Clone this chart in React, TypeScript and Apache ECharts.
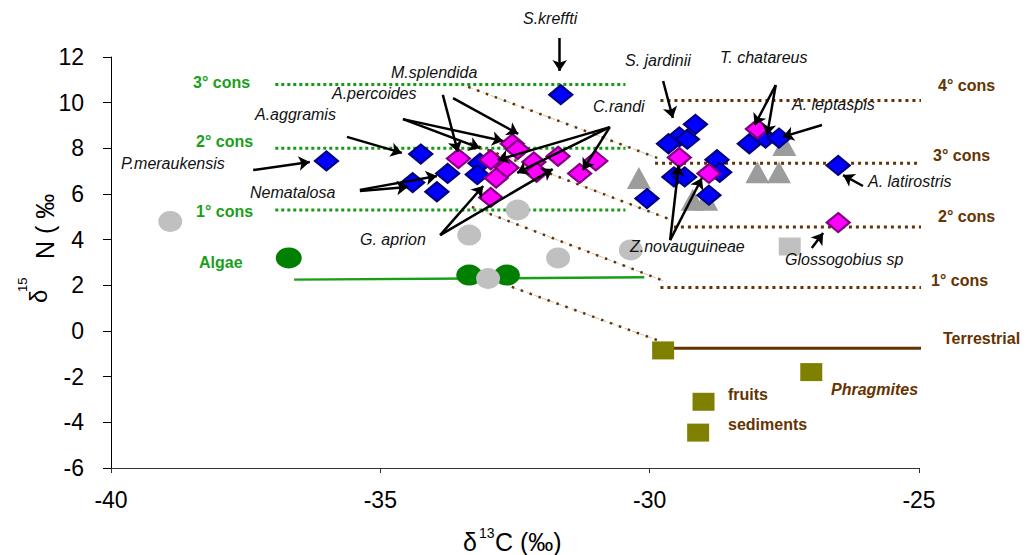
import React, { useEffect, useRef } from 'react';
import * as echarts from 'echarts';

const FONT = '"Liberation Sans", Arial, Helvetica, sans-serif';

// ---- data (δ13C, δ15N) ----
const blueFish: number[][] = [
  [-36.0, 7.45], [-34.25, 7.75], [-33.75, 6.9], [-34.4, 6.5], [-33.95, 6.1],
  [-33.15, 7.35], [-33.2, 6.85], [-31.65, 10.35], [-30.05, 5.8],
  [-29.15, 9.05], [-29.45, 8.5], [-29.3, 8.4], [-29.65, 8.2],
  [-29.55, 6.75], [-29.35, 6.75], [-28.75, 7.5], [-28.7, 6.95], [-28.9, 5.95],
  [-28.15, 8.2], [-27.85, 8.45], [-27.6, 8.45], [-26.5, 7.25],
];
const magentaFish: number[][] = [
  [-33.55, 7.55], [-32.95, 7.5], [-32.65, 7.15], [-32.85, 6.7], [-32.95, 5.85],
  [-32.55, 8.2], [-32.45, 7.95], [-32.15, 7.4], [-32.1, 6.95], [-31.7, 7.65],
  [-31.3, 6.9], [-31.0, 7.45], [-29.45, 7.6], [-28.9, 6.9], [-28.0, 8.85], [-26.5, 4.75],
];
const greyCircles: number[][] = [
  [-38.9, 4.8], [-33.35, 4.2], [-32.45, 5.3], [-31.7, 3.2], [-33.0, 2.3], [-30.35, 3.55],
];
const greyTriangles: number[][] = [
  [-30.2, 6.7], [-29.2, 5.75], [-28.95, 5.75], [-28.0, 6.95], [-27.6, 6.95], [-27.5, 8.15],
];
const greySquares: number[][] = [[-27.4, 3.7]];
const algae: number[][] = [[-36.7, 3.2], [-33.35, 2.45], [-32.65, 2.45]];
const terrestrialSources: number[][] = [[-29.75, -0.85], [-27.0, -1.8], [-29.0, -3.1], [-29.1, -4.45]];

// ---- trophic reference lines ----
const algaeLine: number[][] = [[-36.6, 2.25], [-30.1, 2.35]];
const greenLevels: number[] = [10.8, 8.0, 5.3];
const greenLevelSpan: number[] = [-36.95, -30.45];
const brownLevels: number[] = [10.1, 7.35, 4.55, 1.9];
const brownLevelStarts: number[] = [-29.8, -29.9, -29.55, -29.8];
const brownLevelEnd = -24.9;
const terrestrialLine: number[][] = [[-29.75, -0.75], [-24.85, -0.75]];
const diagonals: number[][][] = [
  [[-33.37, 10.69], [-29.86, 7.58]],
  [[-33.34, 8.23], [-29.59, 4.86]],
  [[-33.3, 5.43], [-29.68, 2.14]],
  [[-32.56, 1.93], [-29.86, -0.4]],
];

// ---- annotation arrows (from, to) ----
const arrows: number[][][] = [
  [[-37.36, 7.05], [-36.31, 7.4]],
  [[-35.62, 8.5], [-34.6, 7.8]],
  [[-35.38, 6.13], [-34.49, 6.31]],
  [[-35.38, 6.18], [-33.95, 6.79]],
  [[-34.58, 9.28], [-33.15, 8.01]],
  [[-34.58, 9.28], [-32.72, 8.32]],
  [[-33.84, 10.34], [-33.56, 7.84]],
  [[-33.65, 10.2], [-32.44, 8.63]],
  [[-33.89, 4.2], [-33.09, 6.35]],
  [[-33.89, 4.2], [-31.8, 7.09]],
  [[-30.74, 8.93], [-32.82, 7.49]],
  [[-30.74, 8.93], [-32.46, 6.92]],
  [[-30.74, 8.93], [-31.24, 7.05]],
  [[-31.67, 12.83], [-31.67, 11.39]],
  [[-29.75, 10.95], [-29.57, 9.33]],
  [[-27.66, 10.77], [-28.05, 9.02]],
  [[-27.66, 10.77], [-27.82, 8.58]],
  [[-26.8, 9.02], [-27.53, 8.5]],
  [[-26.04, 6.35], [-26.41, 6.83]],
  [[-26.99, 3.63], [-26.78, 4.29]],
  [[-29.62, 3.98], [-29.46, 7.27]],
  [[-29.62, 3.98], [-29.03, 6.7]],
];

// ---- texts ----
const speciesNames: string[] = [
  'S.kreffti', 'M.splendida', 'A.percoides', 'A.aggramis', 'P.meraukensis', 'Nematalosa',
  'G. aprion', 'C.randi', 'S. jardinii', 'T. chatareus', 'A. leptaspis', 'A. latirostris',
  'Z.novauguineae', 'Glossogobius sp',
];
const greenNames: string[] = ['3° cons', '2° cons', '1° cons', 'Algae'];
const brownNames: string[] = ['4° cons', '3° cons', '2° cons', '1° cons', 'Terrestrial', 'fruits', 'sediments'];

const GREEN = '#1a9f1a';
const BROWN = '#663300';

export default function App() {
  const ref = useRef<HTMLDivElement>(null);
  useEffect(() => {
    document.body.style.margin = '0';
    const chart = echarts.init(ref.current!, null, { renderer: 'svg' });

    const speciesPos = [
      [523, 18], [391, 72], [332, 93], [255, 114], [121, 163], [250, 192],
      [360, 239], [593, 106], [625, 60], [720, 57], [792, 104], [868, 181],
      [630, 246], [785, 259],
    ];
    const greenPos = [[193, 82], [196, 141], [196, 211], [199, 262]];
    const brownPos = [[938, 85], [933, 155], [938, 216], [931, 280], [943, 338], [728, 394], [728, 424]];

    const txt = (text: string, x: number, y: number, fill: string, extra: any = {}) => ({
      type: 'text',
      x, y,
      z: 100,
      silent: true,
      ...(extra.el || {}),
      style: {
        text,
        fill,
        fontFamily: FONT,
        fontSize: 16,
        align: 'left', textAlign: 'left',
        verticalAlign: 'middle', textVerticalAlign: 'middle',
        ...(extra.style || {}),
      },
    });

    const graphics: any[] = [];
    speciesNames.forEach((n, i) => graphics.push(txt(n, speciesPos[i][0], speciesPos[i][1], '#111', { style: { fontStyle: 'italic' } })));
    greenNames.forEach((n, i) => graphics.push(txt(n, greenPos[i][0], greenPos[i][1], GREEN, { style: { fontWeight: 'bold' } })));
    brownNames.forEach((n, i) => graphics.push(txt(n, brownPos[i][0], brownPos[i][1], BROWN, { style: { fontWeight: 'bold' } })));
    graphics.push(txt('Phragmites', 831, 389, BROWN, { style: { fontWeight: 'bold', fontStyle: 'italic' } }));
    // y axis title (rotated)
    graphics.push(txt('N ( ‰', 45, 259, '#000', { el: { rotation: Math.PI / 2 }, style: { fontSize: 25 } }));
    graphics.push(txt('δ', 38, 303, '#000', { el: { rotation: Math.PI / 2 }, style: { fontSize: 24 } }));
    graphics.push(txt('15', 22, 292, '#000', { el: { rotation: Math.PI / 2 }, style: { fontSize: 13 } }));
    // x axis title
    graphics.push(txt('δ', 463, 542, '#000', { style: { fontSize: 25 } }));
    graphics.push(txt('13', 479, 533, '#000', { style: { fontSize: 14 } }));
    graphics.push(txt('C (‰)', 495, 542, '#000', { style: { fontSize: 25 } }));

    const lineSeries = (data: number[][], color: string, width: number, type: any, opacity = 1) => ({
      type: 'line',
      data,
      symbol: 'none',
      silent: true,
      clip: false,
      lineStyle: { color, width, type, opacity, cap: 'butt' },
      z: 1,
    });

    const series: any[] = [];
    greenLevels.forEach((y) =>
      series.push(lineSeries([[greenLevelSpan[0], y], [greenLevelSpan[1], y]], '#169a16', 3, [3, 3]))
    );
    brownLevels.forEach((y, i) =>
      series.push(lineSeries([[brownLevelStarts[i], y], [brownLevelEnd, y]], BROWN, 3, [3, 4]))
    );
    diagonals.forEach((d) => {
      series.push(lineSeries(d, '#c9b29a', 1, [5, 3], 0.8));
      series.push(lineSeries(d, BROWN, 2.5, [2.5, 7]));
    });
    series.push(lineSeries(terrestrialLine, BROWN, 3, 'solid'));
    series.push(lineSeries(algaeLine, '#17a017', 2.5, 'solid'));

    const scatter = (data: number[][], symbol: string, size: number[], color: string, border?: string) => ({
      type: 'scatter',
      data,
      symbol,
      symbolSize: size,
      silent: true,
      itemStyle: border
        ? { color, borderColor: border, borderWidth: 2.2, opacity: 1 }
        : { color, opacity: 1 },
    });
    series.push(scatter(algae, 'circle', [26, 21], '#007f00'));
    series.push(scatter(greyCircles, 'circle', [24, 21], '#c0c0c0'));
    series.push(scatter(greyTriangles, 'triangle', [24, 22], '#9c9c9c'));
    series.push(scatter(greySquares, 'rect', [22, 18], '#c0c0c0'));
    series.push(scatter(terrestrialSources, 'rect', [22, 18], '#808000'));
    series.push(scatter(blueFish, 'diamond', [23, 19], '#0000ff', '#000080'));
    series.push(scatter(magentaFish, 'diamond', [23, 19], '#ff00ff', '#800080'));
    series.push({
      type: 'lines',
      coordinateSystem: 'cartesian2d',
      clip: false,
      silent: true,
      symbol: ['none', 'arrow'],
      symbolSize: 11,
      lineStyle: { color: '#000', width: 2.5, opacity: 1, curveness: 0 },
      data: arrows.map((a) => ({ coords: a })),
      z: 5,
    });

    chart.setOption({
      animation: false,
      backgroundColor: '#fff',
      grid: { left: 111, right: 115, top: 57, bottom: 87, containLabel: false, show: false },
      xAxis: {
        type: 'value',
        min: -40, max: -25, interval: 5,
        axisLine: { show: true, onZero: false, lineStyle: { color: '#333', width: 1 } },
        axisTick: { show: true, length: 5, lineStyle: { color: '#333' } },
        axisLabel: { color: '#000', fontSize: 23, fontFamily: FONT, margin: 20 },
        splitLine: { show: false },
      },
      yAxis: {
        type: 'value',
        min: -6, max: 12, interval: 2,
        axisLine: { show: true, onZero: false, lineStyle: { color: '#000', width: 1 } },
        axisTick: { show: true, length: 8, lineStyle: { color: '#000' } },
        axisLabel: { color: '#000', fontSize: 23, fontFamily: FONT, margin: 27 },
        splitLine: { show: false },
      },
      graphic: graphics,
      series,
    });
    return () => chart.dispose();
  }, []);
  return <div ref={ref} style={{ position: 'absolute', left: 0, top: 0, width: 1034, height: 555 }} />;
}
